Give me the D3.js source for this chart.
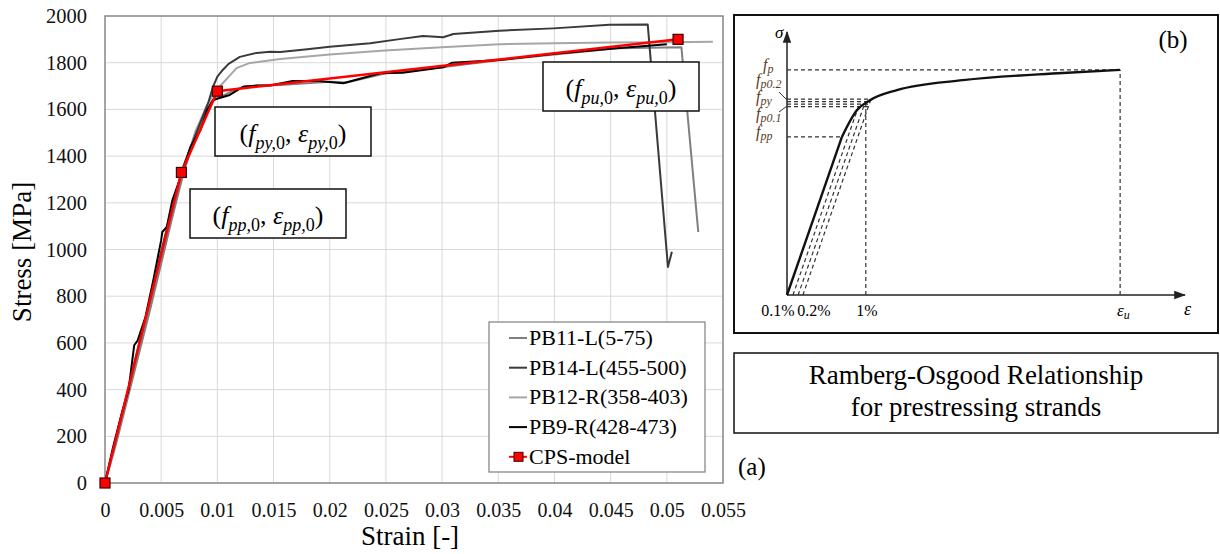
<!DOCTYPE html>
<html>
<head>
<meta charset="utf-8">
<script src="https://cdn.jsdelivr.net/npm/d3@7"></script>
<style>
  body { margin: 0; background: #fff; }
  svg { font-family: "Liberation Serif", "Times New Roman", serif; }
</style>
</head>
<body>
<svg id="chart" width="1220" height="554"></svg>
<script>
// ---- test curves (strain [-], stress [MPa]) ----
const pb11Strain = [0, 0.001, 0.002, 0.003, 0.004, 0.005, 0.006, 0.007, 0.008, 0.009, 0.0097, 0.0103, 0.0112, 0.0125, 0.0156, 0.02, 0.0215, 0.025, 0.03, 0.035, 0.04, 0.0456, 0.0513, 0.0528];
const pb11Stress = [0, 170, 360, 550, 740, 940, 1140, 1330, 1480, 1590, 1640, 1655, 1675, 1700, 1705, 1718, 1715, 1755, 1780, 1810, 1835, 1862, 1866, 1075];

const pb14Strain = [0, 0.001, 0.002, 0.003, 0.004, 0.005, 0.006, 0.007, 0.0078, 0.0085, 0.0092, 0.0096, 0.01, 0.0105, 0.011, 0.012, 0.0135, 0.0147, 0.0156, 0.018, 0.02, 0.0236, 0.0262, 0.0283, 0.0301, 0.031, 0.0351, 0.0399, 0.0449, 0.0483, 0.0501, 0.05045];
const pb14Stress = [0, 200, 390, 590, 780, 990, 1190, 1360, 1460, 1545, 1630, 1695, 1740, 1770, 1795, 1825, 1842, 1847, 1846, 1858, 1868, 1883, 1901, 1914, 1909, 1923, 1937, 1947, 1962, 1964, 925, 990];

const pb12Strain = [0, 0.001, 0.002, 0.003, 0.004, 0.005, 0.006, 0.007, 0.008, 0.009, 0.0098, 0.0105, 0.0112, 0.0117, 0.0129, 0.0156, 0.02, 0.0249, 0.03, 0.0351, 0.04, 0.045, 0.05, 0.0541];
const pb12Stress = [0, 180, 370, 560, 760, 950, 1150, 1340, 1500, 1610, 1680, 1713, 1750, 1777, 1799, 1816, 1835, 1852, 1866, 1879, 1883, 1886, 1888, 1890];

const pb9Strain = [0, 0.0007, 0.0015, 0.0021, 0.0026, 0.0029, 0.0036, 0.0043, 0.005, 0.0051, 0.0055, 0.006, 0.0068, 0.0076, 0.0085, 0.0091, 0.0096, 0.0102, 0.0111, 0.0123, 0.0135, 0.0147, 0.0167, 0.019, 0.0212, 0.0245, 0.0265, 0.0301, 0.0309, 0.0351, 0.04, 0.045, 0.05];
const pb9Stress = [0, 150, 300, 400, 590, 610, 711, 869, 1040, 1075, 1097, 1212, 1320, 1439, 1512, 1598, 1640, 1649, 1662, 1697, 1702, 1702, 1722, 1722, 1712, 1755, 1757, 1780, 1800, 1812, 1838, 1860, 1879];

const cpsStrain = [0, 0.0068, 0.01, 0.051];
const cpsStress = [0, 1330, 1678, 1900];

const seriesNames = ["PB11-L(5-75)", "PB14-L(455-500)", "PB12-R(358-403)", "PB9-R(428-473)", "CPS-model"];

const xTickValues = [0, 0.005, 0.01, 0.015, 0.02, 0.025, 0.03, 0.035, 0.04, 0.045, 0.05, 0.055];
const xTickLabels = ["0", "0.005", "0.01", "0.015", "0.02", "0.025", "0.03", "0.035", "0.04", "0.045", "0.05", "0.055"];
const yTickValues = [0, 200, 400, 600, 800, 1000, 1200, 1400, 1600, 1800, 2000];

// ---- Ramberg-Osgood schematic (arbitrary units) ----
const roStrain = [0, 13.8, 17.6, 20.9, 27.6, 44.2, 69.3, 83.7];
const roStress = [0, 60.1, 70.3, 74.1, 77.9, 81.7, 84.4, 85.6];
const roLevels = [74.5, 73.5, 72.6, 71.6];   // fp0.2 .. fp0.1 dashed levels
const roOffsets = [1.5, 2.8, 4.0];           // offset lines start (0.1%, 0.2%)
const roOffsetLevels = [71.6, 72.6, 74.5];

const svg = d3.select("#chart");

// ================= panel (a) =================
const margin = { top: 16, left: 105 },
      width = 618, height = 467;

const x = d3.scaleLinear().domain([0, 0.055]).range([margin.left, margin.left + width]);
const y = d3.scaleLinear().domain([0, 2000]).range([margin.top + height, margin.top]);

// grid
svg.append("g").selectAll("line").data(xTickValues).enter().append("line")
  .attr("x1", d => x(d)).attr("x2", d => x(d))
  .attr("y1", y(0)).attr("y2", y(2000))
  .attr("stroke", "#d9d9d9").attr("stroke-width", 1);
svg.append("g").selectAll("line").data(yTickValues).enter().append("line")
  .attr("x1", x(0)).attr("x2", x(0.055))
  .attr("y1", d => y(d)).attr("y2", d => y(d))
  .attr("stroke", "#d9d9d9").attr("stroke-width", 1);

svg.append("rect")
  .attr("x", x(0)).attr("y", y(2000))
  .attr("width", width).attr("height", height)
  .attr("fill", "none").attr("stroke", "#8c8c8c").attr("stroke-width", 1.5);

// axes
const xAxis = svg.append("g")
  .attr("transform", `translate(0,${y(0)})`)
  .call(d3.axisBottom(x).tickValues(xTickValues).tickFormat((d, i) => xTickLabels[i]).tickSize(0).tickPadding(20));
xAxis.select(".domain").remove();
xAxis.selectAll("text").style("font-size", "20px").style("font-family", "'Liberation Serif', serif").attr("fill", "#111");

const yAxis = svg.append("g")
  .attr("transform", `translate(${x(0)},0)`)
  .call(d3.axisLeft(y).tickValues(yTickValues).tickFormat(d3.format("d")).tickSize(0).tickPadding(18));
yAxis.select(".domain").remove();
yAxis.selectAll("text").style("font-size", "20.5px").style("font-family", "'Liberation Serif', serif").attr("fill", "#111");

svg.append("text")
  .attr("transform", `translate(31,252) rotate(-90)`)
  .attr("text-anchor", "middle")
  .style("font-size", "27px")
  .text("Stress [MPa]");
svg.append("text")
  .attr("x", 410).attr("y", 545)
  .attr("text-anchor", "middle")
  .style("font-size", "27px")
  .text("Strain [-]");

// curves
const line = d3.line().x(d => x(d[0])).y(d => y(d[1]));
const zip = (a, b) => a.map((v, i) => [v, b[i]]);

const series = [
  { name: seriesNames[2], pts: zip(pb12Strain, pb12Stress), color: "#a6a6a6", w: 2 },
  { name: seriesNames[0], pts: zip(pb11Strain, pb11Stress), color: "#7f7f7f", w: 2 },
  { name: seriesNames[1], pts: zip(pb14Strain, pb14Stress), color: "#3a3a3a", w: 2 },
  { name: seriesNames[3], pts: zip(pb9Strain, pb9Stress), color: "#000000", w: 2 }
];

svg.append("g").selectAll("path").data(series).enter().append("path")
  .attr("d", d => line(d.pts))
  .attr("fill", "none")
  .attr("stroke", d => d.color)
  .attr("stroke-width", d => d.w)
  .attr("stroke-linejoin", "round");

const cps = zip(cpsStrain, cpsStress);
svg.append("path")
  .attr("d", line(cps))
  .attr("fill", "none").attr("stroke", "#ff0000").attr("stroke-width", 2.5);
svg.append("g").selectAll("rect").data(cps).enter().append("rect")
  .attr("x", d => x(d[0]) - 5).attr("y", d => y(d[1]) - 5)
  .attr("width", 10).attr("height", 10)
  .attr("fill", "#ff0000").attr("stroke", "#3a0000").attr("stroke-width", 1.2);

// annotation boxes
function richText(g, cx, cy, parts, size, subSize) {
  const t = g.append("text").attr("x", cx).attr("y", cy)
    .attr("text-anchor", "middle").style("font-size", size + "px");
  let inSub = false;
  parts.forEach(p => {
    const ts = t.append("tspan").text(p.t);
    if (p.i) ts.style("font-style", "italic");
    if (p.sub) {
      ts.style("font-size", subSize + "px");
      if (!inSub) { ts.attr("dy", size * 0.28); inSub = true; }
    } else if (inSub) {
      ts.attr("dy", -size * 0.28); inSub = false;
    }
  });
  return t;
}
const annParts = sub => [
  { t: "(" }, { t: "f", i: 1 }, { t: sub + ",", i: 1, sub: 1 }, { t: "0", sub: 1 },
  { t: ", " }, { t: "ε", i: 1 }, { t: sub + ",", i: 1, sub: 1 }, { t: "0", sub: 1 }, { t: ")" }
];
const annotations = [
  { sub: "py", bx: 215, by: 107 },
  { sub: "pp", bx: 190, by: 189 },
  { sub: "pu", bx: 543, by: 62 }
];
annotations.forEach(a => {
  const g = svg.append("g");
  g.append("rect").attr("x", a.bx).attr("y", a.by).attr("width", 156).attr("height", 49)
    .attr("fill", "#fff").attr("stroke", "#111").attr("stroke-width", 1.5);
  richText(g, a.bx + 78, a.by + 35, annParts(a.sub), 26, 18);
});

// legend
const legend = svg.append("g");
legend.append("rect").attr("x", 489).attr("y", 322).attr("width", 216).attr("height", 150)
  .attr("fill", "#fff").attr("stroke", "#7f7f7f").attr("stroke-width", 1.2);
const legendColors = ["#7f7f7f", "#3a3a3a", "#a6a6a6", "#000000", "#ff0000"];
seriesNames.forEach((name, i) => {
  const ly = 338 + i * 29.7;
  legend.append("line").attr("x1", 509).attr("x2", 527).attr("y1", ly).attr("y2", ly)
    .attr("stroke", legendColors[i]).attr("stroke-width", 2);
  if (i === 4) {
    legend.append("rect").attr("x", 514).attr("y", ly - 4.5).attr("width", 9).attr("height", 9)
      .attr("fill", "#ff0000").attr("stroke", "#3a0000").attr("stroke-width", 1);
  }
  legend.append("text").attr("x", 529).attr("y", ly + 7).style("font-size", "22px").text(name);
});

// ================= panel (b) =================
const pb = svg.append("g");
pb.append("rect").attr("x", 734).attr("y", 15).attr("width", 484).attr("height", 318)
  .attr("fill", "none").attr("stroke", "#111").attr("stroke-width", 2);

const bx = d3.scaleLinear().domain([0, 100]).range([787, 1185]);
const by = d3.scaleLinear().domain([0, 100]).range([295, 32]);

const defs = svg.append("defs");
defs.append("marker").attr("id", "arr").attr("viewBox", "0 0 10 10")
  .attr("refX", 9).attr("refY", 5).attr("markerWidth", 8).attr("markerHeight", 8)
  .attr("orient", "auto")
  .append("path").attr("d", "M0,1.5 L10,5 L0,8.5 Z").attr("fill", "#222");

pb.append("line").attr("x1", bx(0)).attr("y1", by(0)).attr("x2", bx(0)).attr("y2", by(100))
  .attr("stroke", "#222").attr("stroke-width", 1.5).attr("marker-end", "url(#arr)");
pb.append("line").attr("x1", bx(0)).attr("y1", by(0)).attr("x2", bx(100)).attr("y2", by(0))
  .attr("stroke", "#222").attr("stroke-width", 1.5).attr("marker-end", "url(#arr)");

const dashed = (x1, y1, x2, y2) => pb.append("line")
  .attr("x1", bx(x1)).attr("y1", by(y1)).attr("x2", bx(x2)).attr("y2", by(y2))
  .attr("stroke", "#333").attr("stroke-width", 1.2).attr("stroke-dasharray", "4,3");

const last = roStrain.length - 1;
dashed(0, roStress[last], roStrain[last], roStress[last]);
dashed(roStrain[last], 0, roStrain[last], roStress[last]);
dashed(0, roStress[1], roStrain[1], roStress[1]);
roLevels.forEach(l => dashed(0, l, 20.5, l));
dashed(19.8, 0, 19.8, roLevels[1]);
const elasticSlope = roStress[1] / roStrain[1];
roOffsets.forEach((o, i) => dashed(o, 0, o + roOffsetLevels[i] / elasticSlope, roOffsetLevels[i]));

const ro = zip(roStrain, roStress);
const bline = d3.line().x(d => bx(d[0])).y(d => by(d[1]));
pb.append("path")
  .attr("d", bline(ro.slice(0, 2)))
  .attr("fill", "none").attr("stroke", "#111").attr("stroke-width", 2.4);
pb.append("path")
  .attr("d", bline.curve(d3.curveMonotoneX)(ro.slice(1)))
  .attr("fill", "none").attr("stroke", "#111").attr("stroke-width", 2.4);

pb.append("text").attr("x", 775).attr("y", 38).style("font-size", "17px").style("font-style", "italic").text("σ");
pb.append("text").attr("x", 1184).attr("y", 315).style("font-size", "18px").style("font-style", "italic").text("ε");
pb.append("text").attr("x", 1173).attr("y", 48).attr("text-anchor", "middle").style("font-size", "25px").text("(b)");

const labColor = "#5c3b1e";
const fLabels = [
  { s: "p", x: 763, y: 70 },
  { s: "p0.2", x: 756, y: 85 },
  { s: "py", x: 756, y: 102 },
  { s: "p0.1", x: 756, y: 119 },
  { s: "pp", x: 756, y: 137 }
];
fLabels.forEach(f => {
  const t = pb.append("text").attr("x", f.x).attr("y", f.y)
    .style("font-size", "16px").style("font-style", "italic").attr("fill", labColor);
  t.append("tspan").text("f");
  t.append("tspan").text(f.s).style("font-size", "12px").attr("dy", 3);
});
pb.append("line").attr("x1", 779).attr("y1", 92).attr("x2", 787).attr("y2", 100).attr("stroke", "#333").attr("stroke-width", 1);
pb.append("line").attr("x1", 779).attr("y1", 112).attr("x2", 787).attr("y2", 106).attr("stroke", "#333").attr("stroke-width", 1);

const bottomLabels = [
  { t: "0.1%", x: 778 }, { t: "0.2%", x: 814 }, { t: "1%", x: 867 }
];
bottomLabels.forEach(b => pb.append("text").attr("x", b.x).attr("y", 316)
  .attr("text-anchor", "middle").style("font-size", "16px").text(b.t));
const eu = pb.append("text").attr("x", 1117).attr("y", 316).style("font-size", "17px").style("font-style", "italic");
eu.append("tspan").text("ε");
eu.append("tspan").text("u").style("font-size", "12px").attr("dy", 3);

// caption box
svg.append("rect").attr("x", 734).attr("y", 353).attr("width", 484).attr("height", 80)
  .attr("fill", "none").attr("stroke", "#111").attr("stroke-width", 1.5);
svg.append("text").attr("x", 976).attr("y", 384).attr("text-anchor", "middle")
  .style("font-size", "27px").text("Ramberg-Osgood Relationship");
svg.append("text").attr("x", 976).attr("y", 416).attr("text-anchor", "middle")
  .style("font-size", "27px").text("for prestressing strands");
svg.append("text").attr("x", 738).attr("y", 475).style("font-size", "25px").text("(a)");
</script>
</body>
</html>
